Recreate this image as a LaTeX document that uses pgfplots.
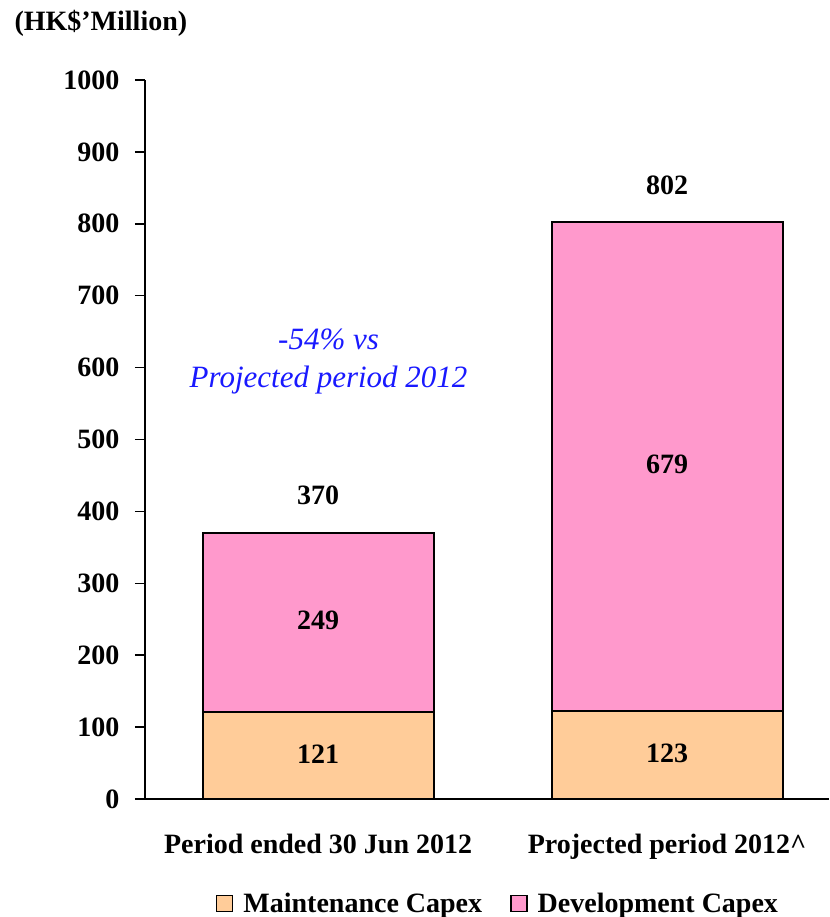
\documentclass[border=0pt]{standalone}
\usepackage{fontspec}
\setmainfont{Liberation Serif}
\usepackage{pgfplots}
\pgfplotsset{compat=1.18}
\definecolor{devpink}{HTML}{FF99CC}
\definecolor{maintorange}{HTML}{FFCC99}
\newcommand{\bigfont}{\fontsize{28}{33}\selectfont\bfseries}
\begin{document}
\begin{tikzpicture}[x=1pt,y=1pt]
\useasboundingbox (-145,-118) rectangle (684,799);
\node[anchor=west,font=\bigfont] at (-134,776) {(HK\$’Million)};
\begin{axis}[
  at={(0,0)}, anchor=south west,
  scale only axis, width=684pt, height=719pt,
  ybar stacked, bar width=231pt,
  xmin=-0.496, xmax=1.464, ymin=0, ymax=1000,
  axis x line*=bottom, axis y line*=left,
  axis line style={line width=1.5pt},
  xtick={0,1},
  xticklabels={Period ended 30 Jun 2012, Projected period 2012\^{}},
  x tick style={draw=none},
  ytick={0,100,...,1000},
  tick align=outside, major tick length=10pt,
  y tick style={line width=1.5pt, black},
  tick label style={font=\bigfont},
  /pgf/number format/assume math mode=true,
  /pgf/number format/1000 sep={},
  xticklabel style={yshift=-22pt},
  yticklabel style={xshift=-12pt},
  legend style={at={(0.516,-0.145)}, anchor=center, draw=none, fill=none,
    legend columns=2, font=\bigfont,
    /tikz/every even column/.append style={column sep=26pt}},
]
\addplot[fill=maintorange, draw=black, line width=2pt, legend image code/.code={\draw[fill=maintorange, draw=black, line width=1.5pt] (0pt,-8pt) rectangle (16pt,8pt);}] coordinates {(0,121) (1,123)};
\addplot[fill=devpink, draw=black, line width=2pt, legend image code/.code={\draw[fill=devpink, draw=black, line width=1.5pt] (0pt,-8pt) rectangle (16pt,8pt);}] coordinates {(0,249) (1,679)};
\legend{\hspace{8pt}Maintenance Capex, \hspace{8pt}Development Capex}
\end{axis}
\begin{axis}[
  at={(0,0)}, anchor=south west,
  scale only axis, width=684pt, height=719pt,
  xmin=-0.496, xmax=1.464, ymin=0, ymax=1000,
  hide axis, clip=false,
]
\addplot[draw=none, mark=none, nodes near coords, point meta=explicit symbolic,
  every node near coord/.style={anchor=center, text=black, font=\bigfont}]
  coordinates {(0,62)[121] (1,63)[123] (0,249)[249] (1,465)[679] (0,423)[370] (1,853)[802]};
\node[align=center, text={rgb,255:red,25;green,25;blue,255}, font=\fontsize{31}{38}\selectfont\itshape]
  at (axis cs:0.03,609) {-54\% vs\\Projected period 2012};
\end{axis}
\end{tikzpicture}
\end{document}
